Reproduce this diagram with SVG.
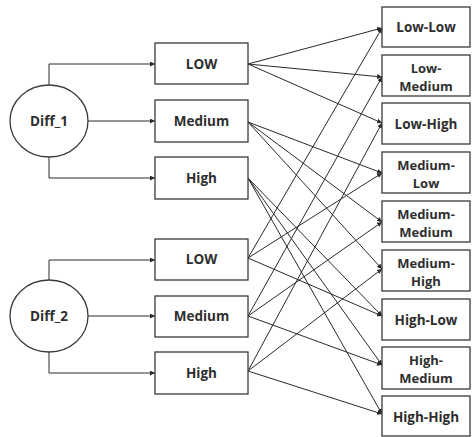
<svg xmlns="http://www.w3.org/2000/svg" width="473" height="437" viewBox="0 0 473 437">
  <style>
    .shape { fill: #ffffff; stroke: #3a3a3a; stroke-width: 1.3; }
    .lbl { font-family: "Open Sans", "Liberation Sans", sans-serif; font-weight: bold; font-size: 13.5px; fill: #2e2e2e; text-anchor: middle; }
    .two { font-size: 13px; }
    .link { fill: none; stroke: #2a2a2a; stroke-width: 1; marker-end: url(#arrow); }
  </style>
  <defs>
    <marker id="arrow" viewBox="0 0 6 6" refX="6" refY="3" markerWidth="5" markerHeight="5" orient="auto" markerUnits="userSpaceOnUse">
      <path d="M0,0 L6,3 L0,6 z" fill="#2a2a2a"/>
    </marker>
  </defs>
  <rect width="473" height="437" fill="#ffffff"/>

  <!-- connectors -->
  <g id="connectors">
    <!-- Diff_1 to its levels -->
    <path class="link" d="M49,85 V64 H155"/>
    <path class="link" d="M88,121 H155"/>
    <path class="link" d="M49,157 V178 H155"/>
    <!-- Diff_2 to its levels -->
    <path class="link" d="M49,280 V260 H155"/>
    <path class="link" d="M88,316 H155"/>
    <path class="link" d="M49,352 V373 H155"/>
    <!-- Diff_1 levels to combinations -->
    <path class="link" d="M248,64 L382,28"/>
    <path class="link" d="M248,64 L382,77"/>
    <path class="link" d="M248,64 L382,123"/>
    <path class="link" d="M248,122 L382,173"/>
    <path class="link" d="M248,122 L382,222"/>
    <path class="link" d="M248,122 L382,269"/>
    <path class="link" d="M248,178 L382,316"/>
    <path class="link" d="M248,178 L382,365"/>
    <path class="link" d="M248,178 L382,414"/>
    <!-- Diff_2 levels to combinations -->
    <path class="link" d="M248,258 L382,28"/>
    <path class="link" d="M248,258 L382,173"/>
    <path class="link" d="M248,258 L382,316"/>
    <path class="link" d="M248,316 L382,77"/>
    <path class="link" d="M248,316 L382,222"/>
    <path class="link" d="M248,316 L382,365"/>
    <path class="link" d="M248,371 L382,123"/>
    <path class="link" d="M248,371 L382,269"/>
    <path class="link" d="M248,371 L382,414"/>
  </g>

  <!-- factors -->
  <g id="diff1">
    <ellipse class="shape" cx="49" cy="121" rx="39" ry="36"/>
    <text class="lbl" x="49" y="126">Diff_1</text>
  </g>
  <g id="diff2">
    <ellipse class="shape" cx="49" cy="316" rx="39" ry="36"/>
    <text class="lbl" x="49" y="321">Diff_2</text>
  </g>

  <!-- levels -->
  <g id="d1-low"><rect class="shape" x="155" y="43" width="93" height="41"/><text class="lbl" x="201.5" y="69">LOW</text></g>
  <g id="d1-medium"><rect class="shape" x="155" y="100" width="93" height="42"/><text class="lbl" x="201.5" y="126">Medium</text></g>
  <g id="d1-high"><rect class="shape" x="155" y="157" width="93" height="42"/><text class="lbl" x="201.5" y="183">High</text></g>
  <g id="d2-low"><rect class="shape" x="155" y="239" width="93" height="41"/><text class="lbl" x="201.5" y="264">LOW</text></g>
  <g id="d2-medium"><rect class="shape" x="155" y="296" width="93" height="41"/><text class="lbl" x="201.5" y="321">Medium</text></g>
  <g id="d2-high"><rect class="shape" x="155" y="352" width="93" height="42"/><text class="lbl" x="201.5" y="378">High</text></g>

  <!-- combinations -->
  <g id="low-low"><rect class="shape" x="382" y="7" width="88" height="40"/><text class="lbl" x="426" y="32">Low-Low</text></g>
  <g id="low-medium"><rect class="shape" x="382" y="55" width="88" height="41"/><text class="lbl two" x="426" y="73">Low-</text><text class="lbl two" x="426" y="91">Medium</text></g>
  <g id="low-high"><rect class="shape" x="382" y="103" width="88" height="41"/><text class="lbl" x="426" y="129">Low-High</text></g>
  <g id="medium-low"><rect class="shape" x="382" y="152" width="88" height="41"/><text class="lbl two" x="426" y="170">Medium-</text><text class="lbl two" x="426" y="188">Low</text></g>
  <g id="medium-medium"><rect class="shape" x="382" y="201" width="88" height="41"/><text class="lbl two" x="426" y="219">Medium-</text><text class="lbl two" x="426" y="237">Medium</text></g>
  <g id="medium-high"><rect class="shape" x="382" y="250" width="88" height="41"/><text class="lbl two" x="426" y="268">Medium-</text><text class="lbl two" x="426" y="286">High</text></g>
  <g id="high-low"><rect class="shape" x="382" y="299" width="88" height="41"/><text class="lbl" x="426" y="325">High-Low</text></g>
  <g id="high-medium"><rect class="shape" x="382" y="347" width="88" height="42"/><text class="lbl two" x="426" y="365">High-</text><text class="lbl two" x="426" y="383">Medium</text></g>
  <g id="high-high"><rect class="shape" x="382" y="396" width="88" height="40"/><text class="lbl" x="426" y="422">High-High</text></g>
</svg>
